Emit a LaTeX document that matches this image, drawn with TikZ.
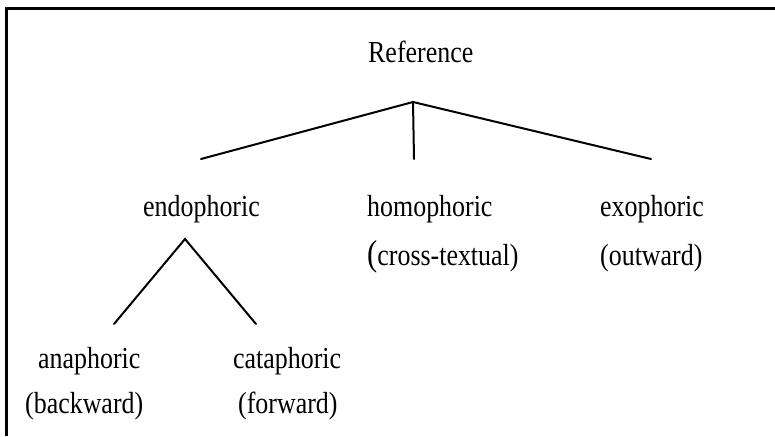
\documentclass[tikz,border=0pt]{standalone}
\usepackage{fontspec}
\setmainfont{Liberation Serif}[FakeStretch=0.85]
\begin{document}
\begin{tikzpicture}[x=1pt,y=-1pt,
  lbl/.style={anchor=base west,inner sep=0pt,font=\fontsize{30.5}{30.5}\selectfont},
  branch/.style={line width=2pt,line cap=round},
  frameline/.style={line width=3pt}]
\useasboundingbox (0,0) rectangle (775,436);
\draw[frameline] (6.5,436) -- (6.5,9) -- (775,9);
\node[lbl] (ref) at (368,63) {Reference};
\node[lbl] (endo) at (143,216) {endophoric};
\node[lbl] (homo) at (367,216) {homophoric};
\node[lbl] (homosub) at (367,265) {{\fontsize{36}{36}\selectfont(}cross-textual)};
\node[lbl] (exo) at (600,216) {exophoric};
\node[lbl] (exosub) at (600,265) {(outward)};
\node[lbl] (ana) at (38,368) {anaphoric};
\node[lbl] (anasub) at (25,413) {(backward)};
\node[lbl] (cata) at (233,368) {cataphoric};
\node[lbl] (catasub) at (238,413) {(forward)};
\coordinate (apex) at (413,102);
\coordinate (endotop) at (201,159);
\coordinate (homotop) at (414,159);
\coordinate (exotop) at (651,159);
\coordinate (endoapex) at (185,239);
\coordinate (anatop) at (114,324);
\coordinate (catatop) at (256,324);
\draw[branch] (endotop) -- (apex) -- (exotop);
\draw[branch] (apex) -- (homotop);
\draw[branch] (anatop) -- (endoapex) -- (catatop);
\end{tikzpicture}
\end{document}
